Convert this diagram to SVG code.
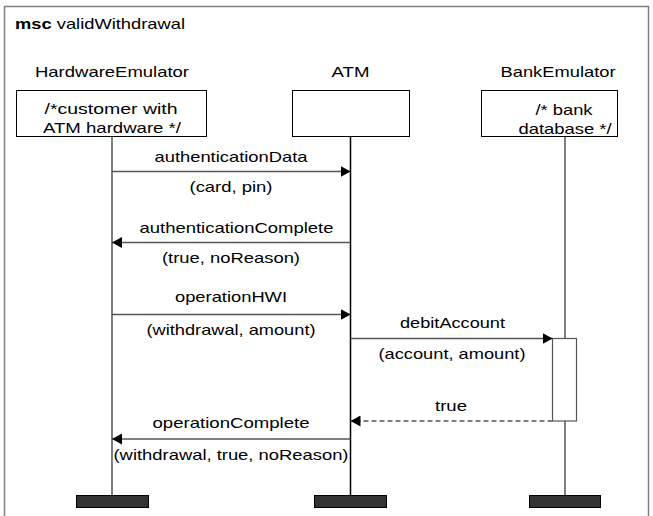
<svg xmlns="http://www.w3.org/2000/svg" width="653" height="516" viewBox="0 0 653 516">
  <defs>
    <marker id="arrow" viewBox="0 0 10 11" refX="10" refY="5.5" markerWidth="10" markerHeight="11" markerUnits="userSpaceOnUse" orient="auto">
      <path d="M0,0 L10,5.5 L0,11 Z" fill="#000"/>
    </marker>
    <style>
      text { font-family: "Liberation Sans", Arial, sans-serif; font-size: 15px; fill: #000; }
      .c { text-anchor: middle; }
      .frame { fill: none; stroke: #808080; stroke-width: 1.5; }
      .box { fill: #fff; stroke: #000; stroke-width: 1; }
      .life { stroke: #555; stroke-width: 1.5; }
      .msg { stroke: #555; stroke-width: 1.5; fill: none; marker-end: url(#arrow); }
      .dash { stroke-dasharray: 5 3; }
      .bar { fill: #333; stroke: #000; stroke-width: 1; }
      .act { fill: #fff; stroke: #555; stroke-width: 1.2; }
    </style>
  </defs>
  <rect width="653" height="516" fill="#fff"/>
  <rect class="frame" x="4.5" y="6.5" width="644" height="520"/>
  <text x="15" y="29" textLength="170" lengthAdjust="spacingAndGlyphs"><tspan font-weight="bold">msc</tspan> validWithdrawal</text>

  <g id="HardwareEmulator">
    <text class="c" x="112" y="77" textLength="154" lengthAdjust="spacingAndGlyphs">HardwareEmulator</text>
    <line class="life" x1="112" y1="137" x2="112" y2="495"/>
    <rect class="box" x="16.5" y="90.5" width="190" height="46"/>
    <text class="c" x="111" y="114" textLength="133" lengthAdjust="spacingAndGlyphs">/*customer with</text>
    <text class="c" x="112" y="133" textLength="138" lengthAdjust="spacingAndGlyphs">ATM hardware */</text>
    <rect class="bar" x="76.5" y="495.5" width="72" height="12"/>
  </g>

  <g id="ATM">
    <text class="c" x="350.5" y="77" textLength="38" lengthAdjust="spacingAndGlyphs">ATM</text>
    <line x1="350.5" y1="137" x2="350.5" y2="495" stroke="#000" stroke-width="1.5"/>
    <rect class="box" x="292.5" y="90.5" width="117" height="46"/>
    <rect class="bar" x="314.5" y="495.5" width="72" height="12"/>
  </g>

  <g id="BankEmulator">
    <text class="c" x="558" y="77" textLength="115" lengthAdjust="spacingAndGlyphs">BankEmulator</text>
    <line class="life" x1="565" y1="137" x2="565" y2="495"/>
    <rect class="box" x="481.5" y="90.5" width="136" height="46"/>
    <text class="c" x="564" y="115" textLength="57" lengthAdjust="spacingAndGlyphs">/* bank</text>
    <text class="c" x="565" y="134" textLength="93" lengthAdjust="spacingAndGlyphs">database */</text>
    <rect class="act" x="552.5" y="338.5" width="24" height="82.5"/>
    <rect class="bar" x="529.5" y="495.5" width="71" height="12"/>
  </g>

  <g id="connectors">
    <line class="msg" x1="112" y1="171.5" x2="350.5" y2="171.5"/>
    <text class="c" x="231" y="162" textLength="153" lengthAdjust="spacingAndGlyphs">authenticationData</text>
    <text class="c" x="231" y="192" textLength="83" lengthAdjust="spacingAndGlyphs">(card, pin)</text>

    <line class="msg" x1="350.5" y1="242.5" x2="112" y2="242.5"/>
    <text class="c" x="236.5" y="233" textLength="194" lengthAdjust="spacingAndGlyphs">authenticationComplete</text>
    <text class="c" x="231" y="263" textLength="138" lengthAdjust="spacingAndGlyphs">(true, noReason)</text>

    <line class="msg" x1="112" y1="314.5" x2="350.5" y2="314.5"/>
    <text class="c" x="231" y="302" textLength="112" lengthAdjust="spacingAndGlyphs">operationHWI</text>
    <text class="c" x="231" y="335" textLength="169" lengthAdjust="spacingAndGlyphs">(withdrawal, amount)</text>

    <line class="msg" x1="350.5" y1="338.5" x2="552.5" y2="338.5"/>
    <text class="c" x="452.5" y="328" textLength="105" lengthAdjust="spacingAndGlyphs">debitAccount</text>
    <text class="c" x="452" y="359" textLength="147" lengthAdjust="spacingAndGlyphs">(account, amount)</text>

    <line class="msg dash" x1="552.5" y1="421" x2="350.5" y2="421"/>
    <text class="c" x="451" y="411" textLength="32" lengthAdjust="spacingAndGlyphs">true</text>

    <line class="msg" x1="350.5" y1="439" x2="112" y2="439"/>
    <text class="c" x="231" y="428" textLength="157" lengthAdjust="spacingAndGlyphs">operationComplete</text>
    <text class="c" x="231" y="460" textLength="235" lengthAdjust="spacingAndGlyphs">(withdrawal, true, noReason)</text>
  </g>
</svg>
